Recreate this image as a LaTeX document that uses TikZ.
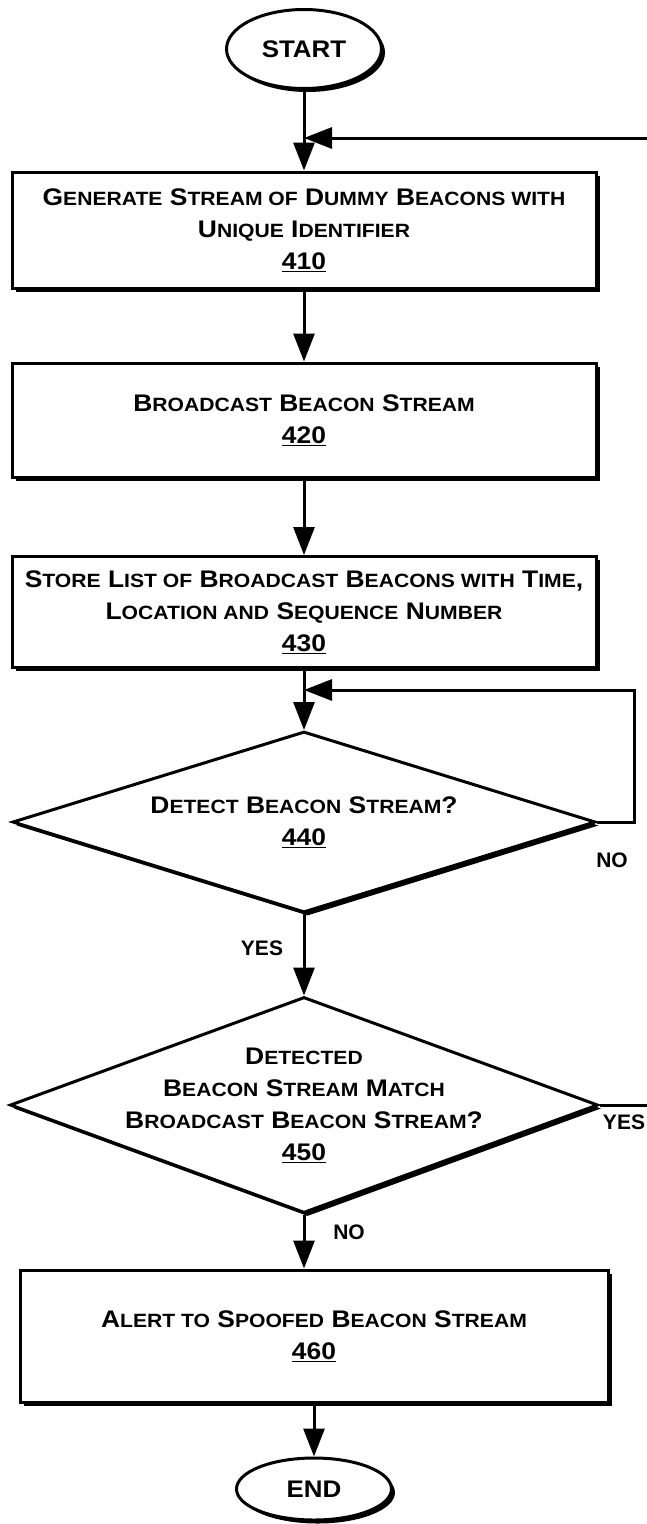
\documentclass[tikz,border=0pt]{standalone}
\usepackage{fontspec}
\setmainfont{Liberation Sans}
\newfontfamily\boxfont[FakeStretch=1.1]{Liberation Sans}
\newfontfamily\termfont[FakeStretch=1.08]{Liberation Sans}
\usetikzlibrary{shapes.geometric,shadows,arrows.meta}
\newcommand{\sk}[1]{{\fontsize{19.2}{32}\selectfont #1}}

\begin{document}
\begin{tikzpicture}[x=1pt,y=-1pt,
    boxshadow/.style={drop shadow={shadow xshift=3.5pt,shadow yshift=-3.5pt,opacity=1,fill=black}},
    stepbox/.style={draw,line width=3pt,fill=white,boxshadow,inner sep=0pt,align=center,
      font=\boxfont\bfseries\fontsize{24}{32}\selectfont},
    decision/.style={draw,line width=3pt,fill=white,boxshadow,shape=diamond,inner sep=0pt},
    dtext/.style={align=center,inner sep=0pt,font=\boxfont\bfseries\fontsize{24}{32}\selectfont},
    term/.style={draw,line width=3pt,fill=white,boxshadow,shape=ellipse,inner sep=0pt,
      font=\termfont\bfseries\fontsize{24}{28}\selectfont},
    lbl/.style={inner sep=0pt,font=\bfseries\fontsize{21}{24}\selectfont},
    flow/.style={line width=3pt,-{Triangle[length=28pt,width=21pt]}},
    plain/.style={line width=3pt}]
    \useasboundingbox (0,0) rectangle (647,1524);

    \node[term,minimum width=155pt,minimum height=79pt] (start) at (304,49) {START};
    \node[stepbox,minimum width=584pt,minimum height=116pt] (b410) at (304,230)
      {G\sk{ENERATE} S\sk{TREAM OF} D\sk{UMMY} B\sk{EACONS WITH}\\
       U\sk{NIQUE} I\sk{DENTIFIER}\\ \underline{410}};
    \node[stepbox,minimum width=584pt,minimum height=114pt] (b420) at (304,420)
      {B\sk{ROADCAST} B\sk{EACON} S\sk{TREAM}\\ \underline{420}};
    \node[stepbox,minimum width=584pt,minimum height=111pt] (b430) at (304,612)
      {S\sk{TORE} L\sk{IST OF} B\sk{ROADCAST} B\sk{EACONS WITH} T\sk{IME},\\
       L\sk{OCATION AND} S\sk{EQUENCE} N\sk{UMBER}\\ \underline{430}};

    \node[decision,minimum width=583pt,minimum height=181pt] (d440) at (304,822) {};
    \node[dtext] (t440) at (d440) {D\sk{ETECT} B\sk{EACON} S\sk{TREAM}?\\ \underline{440}};
    \node[decision,minimum width=588pt,minimum height=216pt] (d450) at (304,1105) {};
    \node[dtext] (t450) at (d450)
      {D\sk{ETECTED}\\ B\sk{EACON} S\sk{TREAM} M\sk{ATCH}\\
       B\sk{ROADCAST} B\sk{EACON} S\sk{TREAM}?\\ \underline{450}};

    \node[stepbox,minimum width=588pt,minimum height=132pt] (b460) at (314,1336)
      {A\sk{LERT TO} S\sk{POOFED} B\sk{EACON} S\sk{TREAM}\\ \underline{460}};
    \node[term,minimum width=155pt,minimum height=62pt] (end) at (314,1489) {END};

    % connectors
    \coordinate (fb) at (647,138);
    \coordinate (lp) at (634,690);
    \coordinate (yo) at (647,1105);
    \draw[flow] (start) -- (b410);
    \draw[flow] (fb) -- (fb -| start);
    \draw[flow] (b410) -- (b420);
    \draw[flow] (b420) -- (b430);
    \draw[flow] (b430) -- (d440);
    \draw[flow] (d440.east) -| (lp) -- (lp -| d440.north);
    \draw[flow] (d440) -- (d450);
    \draw[plain] (d450.east) -- (yo);
    \draw[flow] (d450.south) -- (d450.south |- b460.north);
    \draw[flow] (b460) -- (end);

    \node[lbl] (no1) at (612,860) {NO};
    \node[lbl] (yes1) at (262,948) {YES};
    \node[lbl] (yes2) at (624,1122) {YES};
    \node[lbl] (no2) at (349,1232) {NO};
\end{tikzpicture}
\end{document}
